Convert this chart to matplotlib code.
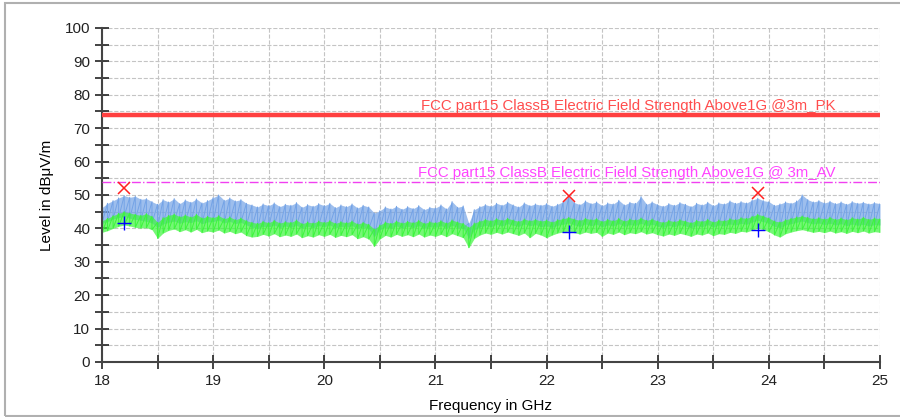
import numpy as np
import matplotlib.pyplot as plt
from matplotlib.ticker import MultipleLocator
from matplotlib.patches import Rectangle

plt.rcParams['font.family'] = ['Liberation Sans', 'DejaVu Sans']

# frequency axis, one reading every 50 MHz
freq = np.linspace(18.0, 25.0, 141)

# peak trace (blue), upper and lower edge of the noise band, dBuV/m
pk_hi = [46.2, 47.5, 48.3, 49.1, 49.8, 49.3, 49.6, 48.7, 48.9, 48.0, 47.2, 48.6, 47.9, 48.9, 47.4, 48.5, 47.8, 48.8, 47.6, 48.3,
         49.2, 50.0, 48.4, 49.1, 48.2, 48.6, 47.5, 47.0, 46.4, 47.3, 46.8, 47.6, 46.5, 47.2, 46.9, 47.7, 46.3, 47.1, 46.6, 47.4,
         46.8, 47.5, 46.2, 47.0, 46.5, 47.3, 46.1, 46.9, 46.4, 44.6, 45.3, 46.4, 45.8, 46.6, 45.7, 46.5, 45.9, 46.8, 45.6, 46.3,
         46.1, 47.0, 45.8, 48.0, 46.3, 46.7, 41.5, 45.6, 46.5, 47.1, 46.6, 47.5, 46.9, 47.8, 47.0, 46.4, 47.6, 46.8, 47.3, 46.9,
         47.4, 46.6, 47.2, 48.0, 49.5, 47.7, 47.1, 48.2, 47.4, 47.9, 46.8, 47.6, 47.3, 48.4, 47.0, 47.8, 47.5, 49.5, 47.2, 47.9,
         47.1, 46.6, 47.4, 46.9, 47.7, 47.2, 46.5, 47.5, 47.0, 47.8, 46.8, 47.6, 47.3, 48.2, 47.5, 48.0, 47.6, 48.5, 49.0, 48.3,
         48.0, 46.9, 47.3, 47.9, 47.5, 48.2, 50.0, 48.6, 47.9, 48.3, 47.6, 48.1, 47.4, 47.9, 47.2, 48.0, 47.5, 47.8, 47.3, 47.7,
         47.4]
pk_lo = [41.5, 42.0, 42.8, 43.2, 43.6, 43.0, 42.7, 42.4, 42.1, 41.6, 40.2, 41.3, 41.8, 42.2, 41.5, 42.0, 41.7, 42.3, 41.4, 41.9,
         42.0, 42.5, 41.6, 42.1, 41.4, 41.8, 41.0, 40.3, 40.0, 40.6, 40.4, 41.0, 40.2, 40.7, 40.3, 40.9, 40.1, 40.6, 40.2, 40.8,
         40.5, 41.0, 40.1, 40.6, 40.3, 40.8, 40.0, 40.4, 39.8, 37.5, 39.6, 40.3, 40.0, 40.7, 40.1, 40.6, 40.2, 40.8, 40.0, 40.5,
         40.3, 40.8, 40.1, 40.9, 40.2, 40.0, 37.0, 39.5, 40.4, 40.9, 40.5, 41.2, 40.7, 41.4, 40.9, 40.6, 41.3, 40.8, 41.1, 40.5,
         40.8, 40.3, 40.9, 41.2, 41.6, 41.0, 40.6, 41.3, 40.8, 41.2, 40.5, 41.0, 40.7, 41.4, 40.6, 41.1, 40.9, 41.5, 40.8, 41.2,
         40.7, 40.3, 40.9, 40.5, 41.1, 40.7, 40.2, 40.8, 40.5, 41.1, 40.4, 41.0, 40.7, 41.3, 41.0, 41.5, 41.2, 41.9, 42.4, 42.0,
         41.5, 40.6, 40.2, 41.0, 41.4, 41.8, 42.2, 41.7, 41.3, 41.6, 41.1, 41.5, 41.0, 41.4, 40.8, 41.3, 40.9, 41.2, 40.7, 41.1,
         41.0]

# average trace (green)
av_hi = [42.3, 43.0, 43.8, 44.5, 45.0, 44.6, 44.2, 43.9, 44.4, 43.6, 41.8, 43.2, 43.9, 44.3, 43.5, 44.0, 43.4, 44.2, 43.1, 43.6,
         43.2, 43.8, 42.9, 43.4, 42.6, 43.1, 42.3, 41.8, 41.5, 42.1, 41.7, 42.4, 41.6, 42.0, 41.8, 42.5, 41.4, 41.9, 41.6, 42.2,
         41.8, 42.3, 41.5, 42.0, 41.7, 42.2, 41.3, 41.8, 41.2, 39.8, 41.0, 41.9, 41.5, 42.2, 41.6, 42.1, 41.7, 42.4, 41.5, 42.0,
         41.7, 42.3, 41.6, 42.5, 41.9, 41.5, 40.3, 41.6, 42.2, 42.7, 42.3, 42.9, 42.4, 43.0, 42.5, 42.1, 42.8, 42.3, 42.7, 42.2,
         42.5, 41.9, 42.6, 42.9, 43.3, 42.8, 42.4, 43.0, 42.6, 42.9, 42.1, 42.7, 42.3, 43.0, 42.2, 42.8, 42.5, 43.1, 42.4, 42.8,
         42.2, 41.8, 42.4, 42.0, 42.6, 42.2, 41.7, 42.4, 42.1, 42.7, 41.9, 42.5, 42.3, 42.9, 42.6, 43.2, 43.0, 43.6, 44.2, 43.7,
         43.1, 42.2, 41.9, 42.6, 43.0, 43.4, 43.7, 43.3, 42.9, 43.2, 42.8, 43.3, 42.7, 43.1, 42.6, 43.2, 42.8, 43.3, 42.7, 43.1,
         42.9]
av_lo = [38.8, 39.3, 40.0, 40.6, 41.0, 40.7, 40.3, 40.1, 40.2, 39.6, 37.0, 38.6, 39.4, 39.8, 39.0, 39.6, 38.9, 39.7, 38.7, 39.2,
         38.9, 39.5, 38.6, 39.1, 38.4, 38.9, 37.8, 37.4, 37.6, 38.2, 37.7, 38.4, 37.5, 38.0, 37.6, 38.3, 37.2, 37.8, 37.4, 38.1,
         37.6, 38.2, 37.3, 37.9, 37.5, 38.1, 36.9, 37.5, 36.8, 34.6, 36.8, 37.9, 37.4, 38.2, 37.6, 38.1, 37.5, 38.3, 37.4, 38.0,
         37.6, 38.2, 37.5, 38.4, 37.8, 37.2, 34.2, 37.0, 38.0, 38.6, 38.2, 38.8, 38.3, 38.9, 38.4, 37.9, 38.6, 37.2, 38.5, 38.0,
         37.2, 38.0, 38.6, 38.9, 39.2, 38.7, 38.3, 38.9, 38.5, 38.8, 37.6, 38.6, 38.2, 38.9, 38.1, 38.7, 38.4, 39.0, 38.3, 38.7,
         38.1, 37.7, 38.3, 37.9, 38.5, 38.1, 37.6, 38.3, 38.0, 38.6, 37.8, 38.4, 38.2, 38.8, 38.5, 39.1, 38.9, 39.5, 40.0, 39.6,
         39.0, 38.0, 37.4, 38.4, 38.9, 39.3, 39.6, 39.2, 38.8, 39.1, 38.7, 39.2, 38.6, 39.0, 38.5, 39.1, 38.7, 39.2, 38.6, 39.0,
         38.8]

# limits
pk_limit = 74.0
av_limit = 54.0
pk_label = "FCC part15 ClassB Electric Field Strength Above1G @3m_PK"
av_label = "FCC part15 ClassB Electric Field Strength Above1G @ 3m_AV"

# final measurement points
mark_freq = [18.2, 22.2, 23.9]
mark_pk = [52.0, 49.8, 50.5]
mark_av = [41.5, 39.0, 39.5]

blue = '#74a3e6'
green = '#3cf53c'

fig = plt.figure(figsize=(9, 4.17), dpi=100)
ax = fig.add_axes([0.1133, 0.132, 0.8645, 0.801])

# outer panel frame
fig.patches.append(Rectangle((0.006, 0.002), 1.2, 0.99, transform=fig.transFigure,
                             fill=False, edgecolor='#b0b0b0', lw=1.5))


def noise_band(hi, lo, color):
    # light body plus vertical strokes so the band looks like a noisy sweep
    ax.fill_between(freq, lo, hi, color=color, alpha=0.7, lw=0, zorder=2)
    xs = np.repeat(freq, 2)
    ys = np.column_stack([hi, lo]).ravel()
    ax.plot(xs, ys, color=color, lw=0.7, zorder=2)


noise_band(pk_hi, pk_lo, blue)
noise_band(av_hi, av_lo, green)

ax.axhline(pk_limit, color='#ff4040', lw=3.2, zorder=3)
ax.axhline(av_limit, color='#f040f0', lw=1.0, ls='-.', zorder=3)
ax.text(24.6, pk_limit + 0.6, pk_label, color='#ff4d4d', fontsize=10.8, ha='right', va='bottom')
ax.text(24.6, av_limit + 0.5, av_label, color='#ff44ff', fontsize=10.8, ha='right', va='bottom')

ax.plot(mark_freq, mark_pk, 'x', color='#ff2020', ms=8, mew=1.1, zorder=4)
ax.plot(mark_freq, mark_av, '+', color='#0000ff', ms=10, mew=1.0, zorder=4)

ax.set_xlim(18, 25)
ax.set_ylim(0, 100)
ax.xaxis.set_major_locator(MultipleLocator(1))
ax.xaxis.set_minor_locator(MultipleLocator(0.5))
ax.yaxis.set_major_locator(MultipleLocator(10))
ax.yaxis.set_minor_locator(MultipleLocator(5))
ax.tick_params(which='both', direction='inout', length=10, width=1.2, color='#222222',
               labelsize=11, labelcolor='#222222')
ax.grid(which='both', color='#c4c4c4', ls='--', lw=0.8, zorder=0)
ax.set_axisbelow(True)
for side in ['top', 'right']:
    ax.spines[side].set_visible(False)
for side in ['left', 'bottom']:
    ax.spines[side].set_color('#444444')
    ax.spines[side].set_linewidth(1.5)

ax.set_xlabel("Frequency in GHz", fontsize=11, labelpad=8)
ax.set_ylabel("Level in dBμV/m", fontsize=11, labelpad=8)

fig.savefig("out.png", dpi=100)
